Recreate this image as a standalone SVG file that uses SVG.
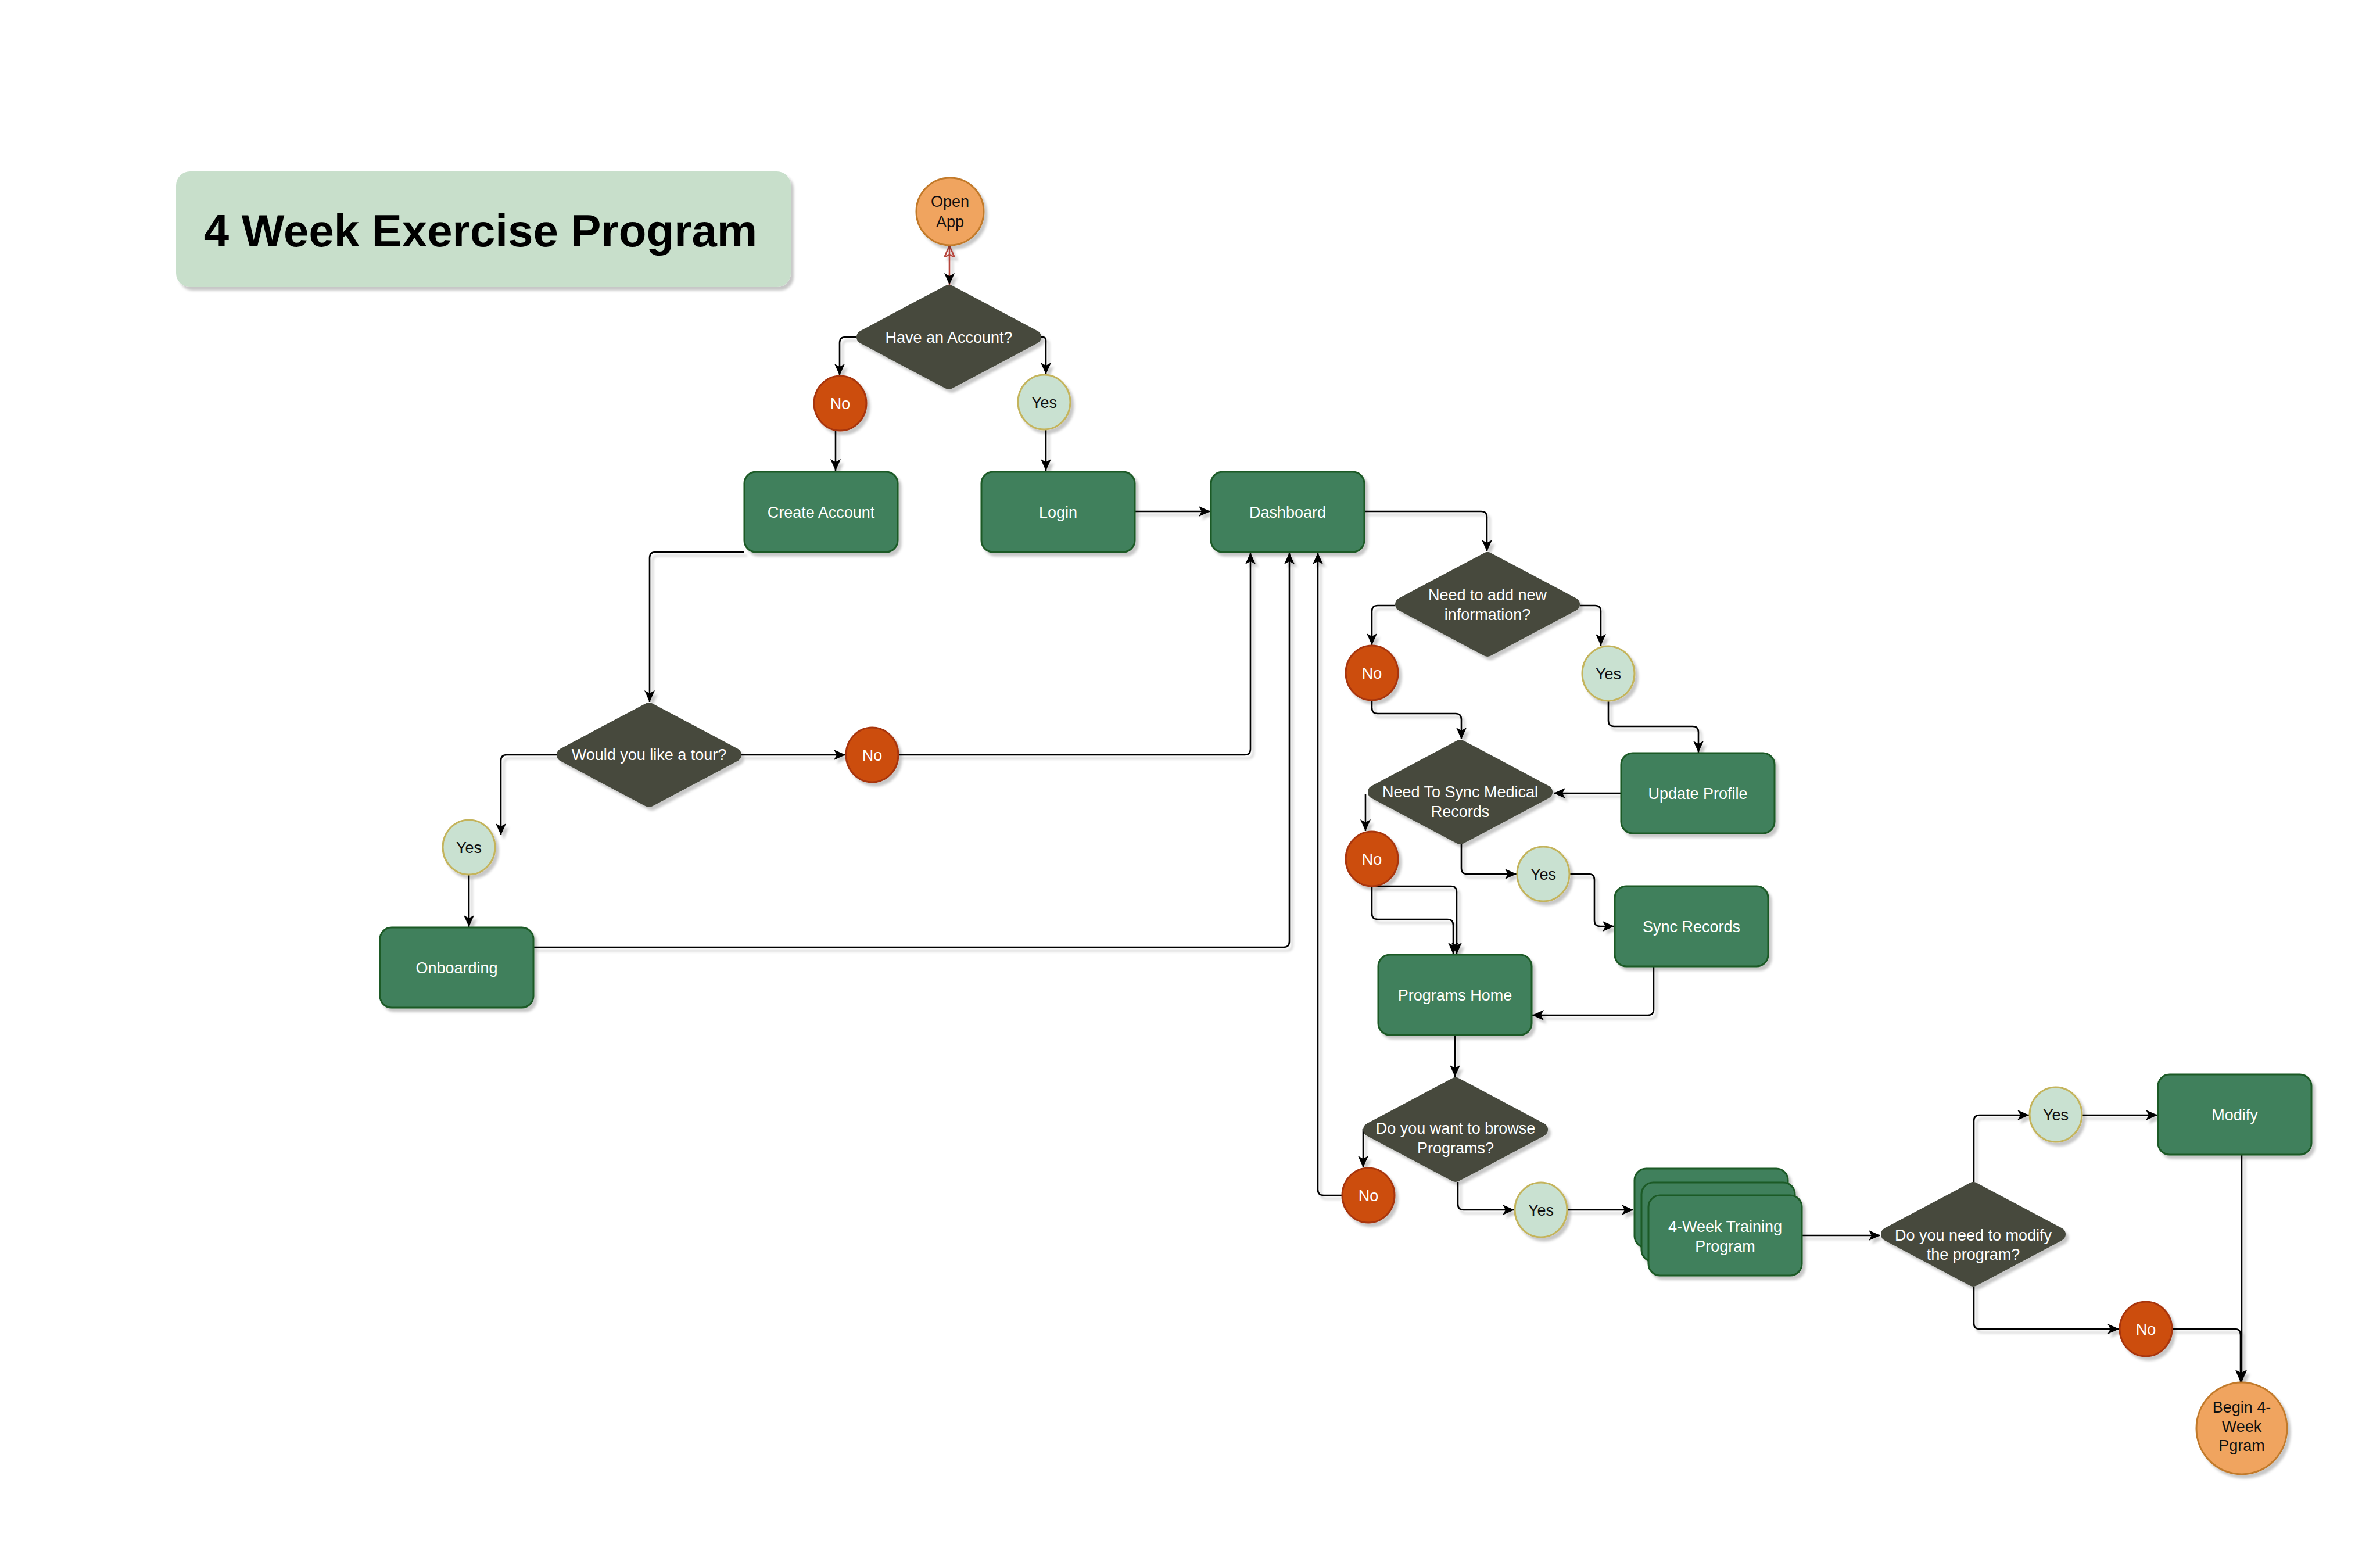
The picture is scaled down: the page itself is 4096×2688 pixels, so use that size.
<svg xmlns="http://www.w3.org/2000/svg" width="4096" height="2688" viewBox="0 0 4096 2688">
<defs>
<style>
.rc{fill:#41805b;stroke:#1c5a27;stroke-width:3}
.dia{fill:#474a3e;stroke:#474a3e;stroke-width:24;stroke-linejoin:round}
.no{fill:#cc4e0c;stroke:#a8360f;stroke-width:3}
.yes{fill:#c9e1d1;stroke:#c4b45c;stroke-width:3}
.org{fill:#f0a45e;stroke:#c27a2c;stroke-width:3}
text{font-family:"Liberation Sans",Arial,Helvetica,sans-serif;font-size:27px;text-anchor:middle}
.tw{fill:#ffffff}
.tk{fill:#111111}
.edge{fill:none;stroke:#000;stroke-width:2.6;marker-end:url(#arr)}
</style>
<filter id="sh" filterUnits="userSpaceOnUse" x="0" y="0" width="4096" height="2688">
<feDropShadow dx="5" dy="6" stdDeviation="2" flood-color="#000" flood-opacity="0.22"/>
</filter>
<marker id="arr" markerUnits="userSpaceOnUse" viewBox="0 0 20 18" markerWidth="20" markerHeight="18" refX="20" refY="9" orient="auto">
<path d="M0,0 L20,9 L0,18 L5,9 z" fill="#000"/>
</marker>
<marker id="arrR" markerUnits="userSpaceOnUse" viewBox="0 0 20 18" markerWidth="20" markerHeight="18" refX="20" refY="9" orient="auto-start-reverse">
<path d="M0,0 L20,9 L0,18 L5,9 z" fill="none" stroke="#b5443a" stroke-width="2.5"/>
</marker>
</defs>
<rect width="4096" height="2688" fill="#ffffff"/>

<g id="connectors" filter="url(#sh)">
<path d="M1634,423 V490" fill="none" stroke="#b5443a" stroke-width="2.6" marker-start="url(#arrR)" marker-end="url(#arr)"/>
<path class="edge" d="M1474,580 H1455 Q1445,580 1445,590 V646"/>
<path class="edge" d="M1792,580 H1794 Q1800,580 1800,586 V644"/>
<path class="edge" d="M1438,741 V810"/>
<path class="edge" d="M1800,739 V810"/>
<path class="edge" d="M1953,880 H2083"/>
<path class="edge" d="M2348,880 H2549 Q2559,880 2559,890 V949"/>
<path class="edge" d="M2401,1042 H2371 Q2361,1042 2361,1052 V1110"/>
<path class="edge" d="M2719,1042 H2745 Q2755,1042 2755,1052 V1111"/>
<path class="edge" d="M2768,1206 V1240 Q2768,1250 2778,1250 H2913 Q2923,1250 2923,1260 V1295"/>
<path class="edge" d="M2361,1205 V1218 Q2361,1228 2371,1228 H2505 Q2515,1228 2515,1238 V1272"/>
<path class="edge" d="M2790,1365 H2674"/>
<path class="edge" d="M2350,1366 V1430"/>
<path class="edge" d="M2515,1453 V1494 Q2515,1504 2525,1504 H2610"/>
<path class="edge" d="M2701,1504 H2734 Q2744,1504 2744,1514 V1584 Q2744,1594 2754,1594 H2778"/>
<path class="edge" d="M2846,1663 V1737 Q2846,1747 2836,1747 H2637"/>
<path class="edge" d="M2361,1525 H2497 Q2507,1525 2507,1535 V1642"/>
<path class="edge" d="M2361,1525 V1572 Q2361,1582 2371,1582 H2491 Q2501,1582 2501,1592 V1642"/>
<path class="edge" d="M2504,1781 V1853"/>
<path class="edge" d="M2346,1943 V2009"/>
<path class="edge" d="M2310,2057 H2278 Q2268,2057 2268,2047 V951"/>
<path class="edge" d="M2509,2034 V2072 Q2509,2082 2519,2082 H2606"/>
<path class="edge" d="M2697,2082 H2811"/>
<path class="edge" d="M3101,2126 H3236"/>
<path class="edge" d="M3397,2034 V1929 Q3397,1919 3407,1919 H3492"/>
<path class="edge" d="M3583,1919 H3713"/>
<path class="edge" d="M3858,1987 V2378"/>
<path class="edge" d="M3397,2214 V2277 Q3397,2287 3407,2287 H3647"/>
<path class="edge" d="M3738,2287 H3846 Q3856,2287 3856,2297 V2378"/>
<path class="edge" d="M1281,950 H1128 Q1118,950 1118,960 V1208"/>
<path class="edge" d="M958,1299 H872 Q862,1299 862,1309 V1437"/>
<path class="edge" d="M807,1505 V1595"/>
<path class="edge" d="M918,1630 H2209 Q2219,1630 2219,1620 V951"/>
<path class="edge" d="M1276,1299 H1455"/>
<path class="edge" d="M1546,1299 H2142 Q2152,1299 2152,1289 V951"/>
</g>

<g id="title">
<rect x="303" y="295" width="1058" height="199" rx="24" fill="#c8dfcb" filter="url(#sh)"/>
<text x="827" y="424" style="font-size:78px;font-weight:bold;fill:#000">4 Week Exercise Program</text>
</g>

<g id="open-app">
<circle cx="1635" cy="364" r="58" class="org" filter="url(#sh)"/>
<text class="tk" x="1635" y="356">Open</text>
<text class="tk" x="1635" y="391">App</text>
</g>

<g id="have-account">
<polygon class="dia" points="1486,580 1633,502 1780,580 1633,658" filter="url(#sh)"/>
<text class="tw" x="1633" y="590">Have an Account?</text>
</g>

<g id="no-account">
<ellipse cx="1446" cy="694" rx="45" ry="47" class="no" filter="url(#sh)"/>
<text class="tw" x="1446" y="704">No</text>
</g>
<g id="yes-account">
<ellipse cx="1797" cy="692" rx="45" ry="47" class="yes" filter="url(#sh)"/>
<text class="tk" x="1797" y="702">Yes</text>
</g>

<g id="create-account">
<rect x="1281" y="812" width="264" height="138" rx="20" class="rc" filter="url(#sh)"/>
<text class="tw" x="1413" y="891">Create Account</text>
</g>
<g id="login">
<rect x="1689" y="812" width="264" height="138" rx="20" class="rc" filter="url(#sh)"/>
<text class="tw" x="1821" y="891">Login</text>
</g>
<g id="dashboard">
<rect x="2084" y="812" width="264" height="138" rx="20" class="rc" filter="url(#sh)"/>
<text class="tw" x="2216" y="891">Dashboard</text>
</g>

<g id="need-info">
<polygon class="dia" points="2413,1040 2560,962 2707,1040 2560,1118" filter="url(#sh)"/>
<text class="tw" x="2560" y="1033">Need to add new</text>
<text class="tw" x="2560" y="1067">information?</text>
</g>
<g id="no-info">
<ellipse cx="2361" cy="1158" rx="45" ry="47" class="no" filter="url(#sh)"/>
<text class="tw" x="2361" y="1168">No</text>
</g>
<g id="yes-info">
<ellipse cx="2768" cy="1159" rx="45" ry="47" class="yes" filter="url(#sh)"/>
<text class="tk" x="2768" y="1169">Yes</text>
</g>

<g id="update-profile">
<rect x="2790" y="1296" width="264" height="138" rx="20" class="rc" filter="url(#sh)"/>
<text class="tw" x="2922" y="1375">Update Profile</text>
</g>

<g id="need-sync">
<polygon class="dia" points="2366,1363 2513,1285 2660,1363 2513,1441" filter="url(#sh)"/>
<text class="tw" x="2513" y="1372">Need To Sync Medical</text>
<text class="tw" x="2513" y="1406">Records</text>
</g>
<g id="no-sync">
<ellipse cx="2361" cy="1478" rx="45" ry="47" class="no" filter="url(#sh)"/>
<text class="tw" x="2361" y="1488">No</text>
</g>
<g id="yes-sync">
<ellipse cx="2656" cy="1504" rx="45" ry="47" class="yes" filter="url(#sh)"/>
<text class="tk" x="2656" y="1514">Yes</text>
</g>

<g id="sync-records">
<rect x="2779" y="1525" width="264" height="138" rx="20" class="rc" filter="url(#sh)"/>
<text class="tw" x="2911" y="1604">Sync Records</text>
</g>

<g id="programs-home">
<rect x="2372" y="1643" width="264" height="138" rx="20" class="rc" filter="url(#sh)"/>
<text class="tw" x="2504" y="1722">Programs Home</text>
</g>

<g id="browse">
<polygon class="dia" points="2358,1944 2505,1866 2652,1944 2505,2022" filter="url(#sh)"/>
<text class="tw" x="2505" y="1951">Do you want to browse</text>
<text class="tw" x="2505" y="1985">Programs?</text>
</g>
<g id="no-browse">
<ellipse cx="2355" cy="2057" rx="45" ry="47" class="no" filter="url(#sh)"/>
<text class="tw" x="2355" y="2067">No</text>
</g>
<g id="yes-browse">
<ellipse cx="2652" cy="2082" rx="45" ry="47" class="yes" filter="url(#sh)"/>
<text class="tk" x="2652" y="2092">Yes</text>
</g>

<g id="training-program">
<rect x="2813" y="2011" width="264" height="136" rx="20" class="rc" filter="url(#sh)"/>
<rect x="2825" y="2035" width="264" height="136" rx="20" class="rc" filter="url(#sh)"/>
<rect x="2837" y="2057" width="264" height="138" rx="20" class="rc" filter="url(#sh)"/>
<text class="tw" x="2969" y="2120">4-Week Training</text>
<text class="tw" x="2969" y="2154">Program</text>
</g>

<g id="modify-decision">
<polygon class="dia" points="3249,2124 3396,2046 3543,2124 3396,2202" filter="url(#sh)"/>
<text class="tw" x="3396" y="2135">Do you need to modify</text>
<text class="tw" x="3396" y="2168">the program?</text>
</g>
<g id="yes-modify">
<ellipse cx="3538" cy="1918" rx="45" ry="47" class="yes" filter="url(#sh)"/>
<text class="tk" x="3538" y="1928">Yes</text>
</g>
<g id="no-modify">
<ellipse cx="3693" cy="2287" rx="45" ry="47" class="no" filter="url(#sh)"/>
<text class="tw" x="3693" y="2297">No</text>
</g>

<g id="modify">
<rect x="3714" y="1849" width="264" height="138" rx="20" class="rc" filter="url(#sh)"/>
<text class="tw" x="3846" y="1928">Modify</text>
</g>

<g id="begin-program">
<ellipse cx="3858" cy="2458" rx="78" ry="79" class="org" filter="url(#sh)"/>
<text class="tk" x="3858" y="2431">Begin 4-</text>
<text class="tk" x="3858" y="2464">Week</text>
<text class="tk" x="3858" y="2497">Pgram</text>
</g>

<g id="tour">
<polygon class="dia" points="970,1299 1117,1221 1264,1299 1117,1377" filter="url(#sh)"/>
<text class="tw" x="1117" y="1308">Would you like a tour?</text>
</g>
<g id="yes-tour">
<ellipse cx="807" cy="1458" rx="45" ry="47" class="yes" filter="url(#sh)"/>
<text class="tk" x="807" y="1468">Yes</text>
</g>
<g id="no-tour">
<ellipse cx="1501" cy="1299" rx="45" ry="47" class="no" filter="url(#sh)"/>
<text class="tw" x="1501" y="1309">No</text>
</g>

<g id="onboarding">
<rect x="654" y="1596" width="264" height="138" rx="20" class="rc" filter="url(#sh)"/>
<text class="tw" x="786" y="1675">Onboarding</text>
</g>
</svg>
